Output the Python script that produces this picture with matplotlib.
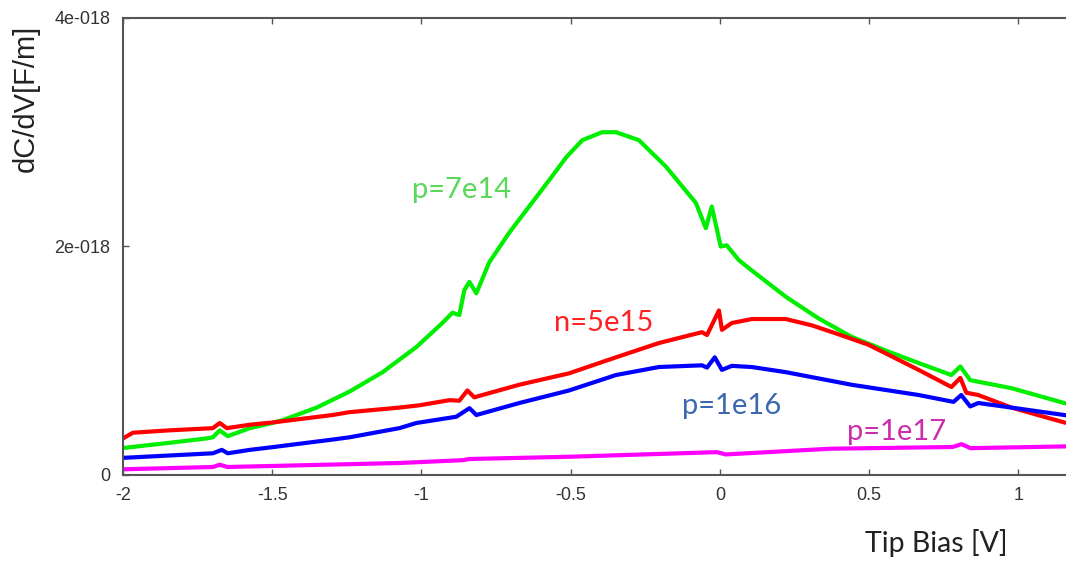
import matplotlib.pyplot as plt

# values in units of 1e-18 F/m
x_p7e14 = [-2.0, -1.85, -1.72, -1.699, -1.676, -1.649, -1.575, -1.5, -1.465, -1.351,
           -1.241, -1.130, -1.017, -0.930, -0.896, -0.873, -0.856, -0.839, -0.816,
           -0.773, -0.706, -0.639, -0.572, -0.515, -0.461, -0.395, -0.348, -0.304,
           -0.271, -0.181, -0.080, -0.047, -0.027, 0.003, 0.023, 0.064, 0.107, 0.221,
           0.331, 0.441, 0.555, 0.666, 0.776, 0.806, 0.839, 0.977, 1.154]
y_p7e14 = [0.236, 0.28, 0.32, 0.33, 0.39, 0.34, 0.41, 0.455, 0.48, 0.59,
           0.73, 0.90, 1.12, 1.33, 1.42, 1.40, 1.62, 1.69, 1.59,
           1.86, 2.12, 2.35, 2.58, 2.78, 2.93, 3.00, 3.00, 2.96,
           2.93, 2.70, 2.38, 2.16, 2.35, 2.00, 2.01, 1.88, 1.79, 1.56,
           1.37, 1.21, 1.09, 0.98, 0.875, 0.95, 0.83, 0.76, 0.63]

x_n5e15 = [-2.0, -1.967, -1.85, -1.699, -1.676, -1.652, -1.575, -1.498, -1.298, -1.241,
           -1.074, -1.007, -0.906, -0.873, -0.846, -0.823, -0.672, -0.505, -0.348,
           -0.204, -0.060, -0.043, -0.003, 0.007, 0.040, 0.107, 0.221, 0.308, 0.388,
           0.498, 0.666, 0.776, 0.806, 0.826, 0.866, 0.977, 1.154]
y_n5e15 = [0.32, 0.37, 0.39, 0.41, 0.455, 0.41, 0.44, 0.46, 0.525, 0.55,
           0.59, 0.61, 0.655, 0.65, 0.74, 0.68, 0.79, 0.89, 1.03,
           1.155, 1.25, 1.225, 1.44, 1.27, 1.33, 1.365, 1.365, 1.31, 1.24,
           1.14, 0.92, 0.77, 0.85, 0.72, 0.70, 0.59, 0.46]

x_p1e16 = [-2.0, -1.699, -1.669, -1.649, -1.575, -1.495, -1.298, -1.241, -1.074, -1.017,
           -0.883, -0.839, -0.816, -0.672, -0.505, -0.348, -0.204, -0.060, -0.043,
           -0.017, 0.007, 0.040, 0.107, 0.221, 0.441, 0.666, 0.783, 0.809, 0.839,
           0.866, 0.977, 1.154]
y_p1e16 = [0.15, 0.19, 0.22, 0.19, 0.22, 0.245, 0.31, 0.33, 0.41, 0.455,
           0.51, 0.585, 0.525, 0.63, 0.74, 0.875, 0.945, 0.96, 0.94,
           1.03, 0.92, 0.955, 0.945, 0.90, 0.79, 0.70, 0.64, 0.70, 0.60,
           0.63, 0.59, 0.525]

x_p1e17 = [-2.0, -1.699, -1.676, -1.65, -1.074, -0.86, -0.84, -0.5, -0.01, 0.02,
           0.37, 0.78, 0.81, 0.84, 1.154]
y_p1e17 = [0.05, 0.07, 0.09, 0.07, 0.105, 0.13, 0.14, 0.16, 0.20, 0.18,
           0.23, 0.245, 0.27, 0.235, 0.25]

scale = 1e-18
y_ticks = [0, 2e-18, 4e-18]
y_tick_labels = ["0", "2e-018", "4e-018"]
x_ticks = [-2, -1.5, -1, -0.5, 0, 0.5, 1]
x_tick_labels = ["-2", "-1.5", "-1", "-0.5", "0", "0.5", "1"]

fig = plt.figure(figsize=(10.66, 5.61), dpi=100)
ax = fig.add_axes([0.1154, 0.1533, 0.8846, 0.8147])

series = [
    (x_p7e14, y_p7e14, "#00ee00"),
    (x_n5e15, y_n5e15, "#ff0000"),
    (x_p1e16, y_p1e16, "#0000ff"),
    (x_p1e17, y_p1e17, "#ff00ff"),
]
for xs, ys, c in series:
    ax.plot(xs, [v * scale for v in ys], color=c, lw=3, solid_joinstyle="round")

ax.set_xlim(-2, 1.16)
ax.set_ylim(0, 4e-18)
ax.set_xticks(x_ticks, x_tick_labels)
ax.set_yticks(y_ticks, y_tick_labels)
ax.tick_params(axis="both", direction="in", length=4, width=1, color="#555555",
               labelsize=13, labelcolor="#333333", top=True)
ax.tick_params(axis="x", pad=9)
ax.tick_params(axis="y", pad=9)
for lbl in ax.get_xticklabels() + ax.get_yticklabels():
    lbl.set_family("Liberation Sans")
for side in ["left", "bottom", "top"]:
    ax.spines[side].set_color("#555555")
    ax.spines[side].set_linewidth(1.5)
ax.spines["right"].set_visible(False)

fig.text(0.024, 0.824, "dC/dV[F/m]", rotation=90, ha="center", va="center",
         fontsize=21, family="Liberation Sans", color="#222222")
fig.text(0.8115, 0.032, "Tip Bias [V]", ha="left", va="center",
         fontsize=20.5, family="Lato", color="#222222")

lab_font = dict(fontsize=21, family="Lato", va="center", ha="left")
ax.text(-1.033, 2.49e-18, "p=7e14", color="#5ad85a", **lab_font)
ax.text(-0.555, 1.33e-18, "n=5e15", color="#ff2222", **lab_font)
ax.text(-0.127, 0.60e-18, "p=1e16", color="#3d68b0", **lab_font)
ax.text(0.425, 0.375e-18, "p=1e17", color="#cc2daa", **lab_font)

fig.savefig("out.png", dpi=100)
